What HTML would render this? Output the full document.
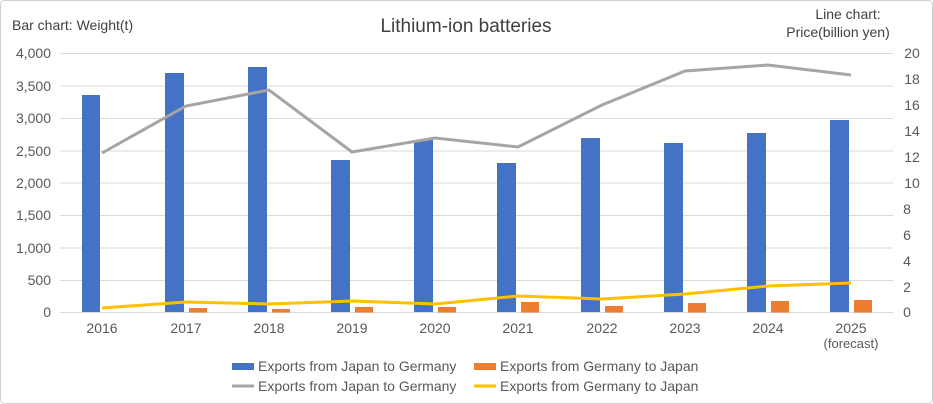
<!DOCTYPE html>
<html><head><meta charset="utf-8"><style>
body{margin:0;background:#fff;}
svg{display:block;font-family:"Liberation Sans",sans-serif;}
</style></head><body>
<svg width="933" height="404" viewBox="0 0 933 404" xmlns="http://www.w3.org/2000/svg">
<rect x="0.5" y="0.5" width="932" height="403" rx="4" fill="#fff" stroke="#d0d0d0"/>
<text x="466" y="32" font-size="19" fill="#404040" text-anchor="middle">Lithium-ion batteries</text>
<text x="12" y="30" font-size="14" fill="#404040">Bar chart: Weight(t)</text>
<text x="848" y="19" font-size="14" fill="#404040" text-anchor="middle">Line chart:</text>
<text x="838" y="37" font-size="14" fill="#404040" text-anchor="middle">Price(billion yen)</text>
<g stroke="#d9d9d9" stroke-width="1">
<line x1="60" x2="893" y1="53.5" y2="53.5"/><line x1="60" x2="893" y1="86" y2="86"/>
<line x1="60" x2="893" y1="118.5" y2="118.5"/><line x1="60" x2="893" y1="151" y2="151"/>
<line x1="60" x2="893" y1="183" y2="183"/><line x1="60" x2="893" y1="215.5" y2="215.5"/>
<line x1="60" x2="893" y1="248" y2="248"/><line x1="60" x2="893" y1="280.5" y2="280.5"/>
<line x1="60" x2="893" y1="312.5" y2="312.5"/>
</g>
<g font-size="14" fill="#595959" text-anchor="end">
<text x="51" y="58">4,000</text><text x="51" y="91">3,500</text><text x="51" y="123">3,000</text>
<text x="51" y="156">2,500</text><text x="51" y="188">2,000</text><text x="51" y="220">1,500</text>
<text x="51" y="253">1,000</text><text x="51" y="285">500</text><text x="51" y="317">0</text>
</g>
<g font-size="14" fill="#595959" text-anchor="middle">
<text x="912" y="58">20</text><text x="912" y="84">18</text><text x="912" y="110">16</text>
<text x="912" y="136">14</text><text x="912" y="162">12</text><text x="912" y="188">10</text>
<text x="907" y="214">8</text><text x="907" y="240">6</text><text x="907" y="266">4</text>
<text x="907" y="292">2</text><text x="907" y="317">0</text>
</g>
<g font-size="14" fill="#595959" text-anchor="middle">
<text x="102" y="333">2016</text><text x="186" y="333">2017</text><text x="269" y="333">2018</text>
<text x="352" y="333">2019</text><text x="435" y="333">2020</text><text x="518" y="333">2021</text>
<text x="602" y="333">2022</text><text x="685" y="333">2023</text><text x="768" y="333">2024</text>
<text x="851" y="333">2025</text><text x="851" y="348" font-size="13">(forecast)</text>
</g>
<g fill="#4472c4">
<rect x="82" y="95" width="18" height="217"/>
<rect x="165" y="73" width="19" height="239"/>
<rect x="248" y="67" width="19" height="245"/>
<rect x="331" y="160" width="19" height="152"/>
<rect x="414" y="140" width="19" height="172"/>
<rect x="497" y="163" width="19" height="149"/>
<rect x="581" y="138" width="19" height="174"/>
<rect x="664" y="143" width="19" height="169"/>
<rect x="747" y="133" width="19" height="179"/>
<rect x="830" y="120" width="19" height="192"/>
</g>
<g fill="#ed7d31">
<rect x="189" y="308" width="18" height="4.5"/>
<rect x="272" y="309" width="18" height="3.5"/>
<rect x="355" y="307" width="18" height="5.5"/>
<rect x="438" y="307" width="18" height="5.5"/>
<rect x="521" y="302" width="18" height="10.5"/>
<rect x="605" y="306" width="18" height="6.5"/>
<rect x="688" y="303" width="18" height="9.5"/>
<rect x="771" y="301" width="18" height="11.5"/>
<rect x="854" y="300" width="18" height="12.5"/>
</g>
<polyline fill="none" stroke="#a5a5a5" stroke-width="3" points="102,153 186,106 269,90 352,152 435,138 518,147 602,105 685,71 768,65 851,75"/>
<polyline fill="none" stroke="#ffc000" stroke-width="3" points="102,308 186,302 269,304 352,301 435,304 518,296 602,299 685,294 768,286 851,283"/>
<g font-size="14" fill="#595959">
<rect x="232" y="363" width="22" height="7" fill="#4472c4"/><text x="258" y="371">Exports from Japan to Germany</text>
<rect x="474" y="363" width="22" height="7" fill="#ed7d31"/><text x="500" y="371">Exports from Germany to Japan</text>
<line x1="232" x2="254" y1="386" y2="386" stroke="#a5a5a5" stroke-width="3"/><text x="258" y="391">Exports from Japan to Germany</text>
<line x1="474" x2="496" y1="386" y2="386" stroke="#ffc000" stroke-width="3"/><text x="500" y="391">Exports from Germany to Japan</text>
</g>
</svg>
</body></html>
